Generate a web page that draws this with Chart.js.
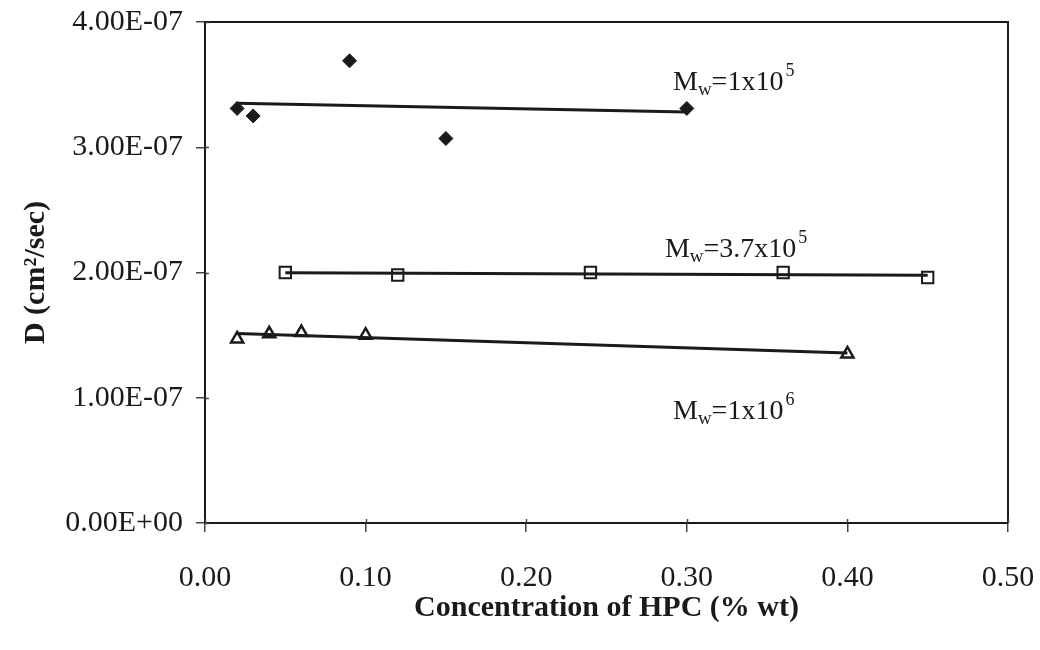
<!DOCTYPE html>
<html>
<head>
<meta charset="utf-8">
<script src="https://cdn.jsdelivr.net/npm/chart.js@4.4.1/dist/chart.umd.min.js"></script>
<style>
  html, body { margin: 0; padding: 0; background: #fff; }
</style>
</head>
<body>
<canvas id="chart" width="1040" height="650"></canvas>
<script>
// HPC concentration (% wt) vs. diffusion coefficient D (cm^2/sec)
const concMw1e5 = [0.02, 0.03, 0.09, 0.15, 0.30];
const diffMw1e5 = [3.31e-7, 3.25e-7, 3.69e-7, 3.07e-7, 3.31e-7];

const concMw37e5 = [0.05, 0.12, 0.24, 0.36, 0.45];
const diffMw37e5 = [2.00e-7, 1.98e-7, 2.00e-7, 2.00e-7, 1.96e-7];

const concMw1e6 = [0.02, 0.04, 0.06, 0.10, 0.40];
const diffMw1e6 = [1.47e-7, 1.51e-7, 1.52e-7, 1.50e-7, 1.35e-7];

const xTicks = [0, 0.1, 0.2, 0.3, 0.4, 0.5];
const yTicks = [0, 1e-7, 2e-7, 3e-7, 4e-7];

const mwBase = ['1x10', '3.7x10', '1x10'];
const mwExp = ['5', '5', '6'];

// where each M_w caption sits, in data units (left edge, baseline)
const captionAnchors = [
  { x: 0.2914, y: 3.46e-7 },
  { x: 0.2864, y: 2.12e-7 },
  { x: 0.2914, y: 0.83e-7 }
];

const SERIF = '"Liberation Serif", "Times New Roman", serif';
const INK = '#1a1a1a';

const toPoints = (xs, ys) => xs.map((x, i) => ({ x, y: ys[i] }));

// least squares line across the range of the points
const linearFit = (xs, ys) => {
  const n = xs.length;
  const mx = xs.reduce((a, b) => a + b, 0) / n;
  const my = ys.reduce((a, b) => a + b, 0) / n;
  let sxy = 0, sxx = 0;
  xs.forEach((x, i) => {
    sxy += (x - mx) * (ys[i] - my);
    sxx += (x - mx) * (x - mx);
  });
  const slope = sxy / sxx;
  const x0 = Math.min(...xs), x1 = Math.max(...xs);
  return [{ x: x0, y: my + slope * (x0 - mx) }, { x: x1, y: my + slope * (x1 - mx) }];
};

const sci = (v) => {
  if (Math.abs(v) < 1e-20) return '0.00E+00';
  const [m, e] = v.toExponential(2).split('e');
  const n = parseInt(e, 10);
  return m + 'E' + (n < 0 ? '-' : '+') + String(Math.abs(n)).padStart(2, '0');
};

const trend = (xs, ys) => ({
  type: 'scatter',
  data: linearFit(xs, ys),
  showLine: true,
  borderColor: INK,
  borderWidth: 3,
  pointRadius: 0,
  order: 0
});

// frame on top/right plus the short inner half of the cross ticks
const framePlugin = {
  id: 'frame',
  beforeDatasetsDraw(chart) {
    const { ctx, chartArea: a, scales } = chart;
    ctx.save();
    ctx.strokeStyle = INK;
    ctx.lineWidth = 2;
    ctx.beginPath();
    ctx.moveTo(a.left, a.top);
    ctx.lineTo(a.right, a.top);
    ctx.lineTo(a.right, a.bottom);
    ctx.stroke();
    ctx.strokeStyle = '#444';
    ctx.lineWidth = 1.5;
    ctx.beginPath();
    yTicks.forEach((v) => {
      const y = Math.round(scales.y.getPixelForValue(v)) + 0.5;
      ctx.moveTo(a.left, y);
      ctx.lineTo(a.left + 4, y);
    });
    xTicks.forEach((v) => {
      const x = Math.round(scales.x.getPixelForValue(v)) + 0.5;
      ctx.moveTo(x, a.bottom);
      ctx.lineTo(x, a.bottom - 4);
    });
    ctx.stroke();
    ctx.restore();
  }
};

// M_w captions with subscript w and superscript exponent
const captionPlugin = {
  id: 'captions',
  afterDatasetsDraw(chart) {
    const { ctx, scales } = chart;
    ctx.save();
    ctx.fillStyle = INK;
    ctx.textBaseline = 'alphabetic';
    ctx.textAlign = 'left';
    captionAnchors.forEach((p, i) => {
      let x = scales.x.getPixelForValue(p.x);
      const y = scales.y.getPixelForValue(p.y);
      ctx.font = '28px ' + SERIF;
      ctx.fillText('M', x, y);
      x += ctx.measureText('M').width;
      ctx.font = '19px ' + SERIF;
      ctx.fillText('w', x, y + 5);
      x += ctx.measureText('w').width;
      ctx.font = '28px ' + SERIF;
      const txt = '=' + mwBase[i];
      ctx.fillText(txt, x, y);
      x += ctx.measureText(txt).width + 2;
      ctx.font = '18px ' + SERIF;
      ctx.fillText(mwExp[i], x, y - 14);
    });
    ctx.restore();
  }
};

new Chart(document.getElementById('chart'), {
  type: 'scatter',
  data: {
    datasets: [
      trend(concMw1e5, diffMw1e5),
      trend(concMw37e5, diffMw37e5),
      trend(concMw1e6, diffMw1e6),
      {
        data: toPoints(concMw1e5, diffMw1e5),
        pointStyle: 'rectRot',
        pointRadius: 7,
        backgroundColor: INK,
        borderColor: INK,
        borderWidth: 1,
        order: 1
      },
      {
        data: toPoints(concMw37e5, diffMw37e5),
        pointStyle: 'rect',
        pointRadius: 8,
        backgroundColor: '#fff',
        borderColor: INK,
        borderWidth: 2,
        order: 1
      },
      {
        data: toPoints(concMw1e6, diffMw1e6),
        pointStyle: 'triangle',
        pointRadius: 7,
        backgroundColor: '#fff',
        borderColor: INK,
        borderWidth: 2.5,
        order: 1
      }
    ]
  },
  options: {
    responsive: false,
    animation: false,
    events: [],
    layout: { padding: { top: 22, right: 32, left: 0, bottom: 0 } },
    plugins: {
      legend: { display: false },
      tooltip: { enabled: false }
    },
    scales: {
      x: {
        type: 'linear',
        min: 0,
        max: 0.5,
        afterBuildTicks: (s) => { s.ticks = xTicks.map((v) => ({ value: v })); },
        afterFit: (s) => {
          s.height = 127;
          s.paddingLeft = 0;
          s.paddingRight = 0;
        },
        ticks: {
          color: INK,
          padding: 28,
          font: { family: SERIF, size: 30 },
          callback: (v) => Number(v).toFixed(2)
        },
        grid: { drawOnChartArea: false, tickLength: 9, color: '#444', lineWidth: 1.5 },
        border: { color: INK, width: 2 },
        title: {
          display: true,
          text: 'Concentration of HPC (% wt)',
          color: INK,
          font: { family: SERIF, size: 30, weight: 'bold' },
          padding: { top: 0, bottom: 24 }
        }
      },
      y: {
        type: 'linear',
        min: 0,
        max: 4e-7,
        afterBuildTicks: (s) => { s.ticks = yTicks.map((v) => ({ value: v })); },
        afterFit: (s) => {
          s.width = 205;
          s.paddingTop = 0;
          s.paddingBottom = 0;
        },
        ticks: {
          color: INK,
          padding: 13,
          font: { family: SERIF, size: 30 },
          callback: (v) => sci(v)
        },
        grid: { drawOnChartArea: false, tickLength: 9, color: '#444', lineWidth: 1.5 },
        border: { color: INK, width: 2 },
        title: {
          display: true,
          text: 'D (cm\u00B2/sec)',
          color: INK,
          font: { family: SERIF, size: 30, weight: 'bold' },
          padding: { top: 18, bottom: 0 }
        }
      }
    }
  },
  plugins: [framePlugin, captionPlugin]
});
</script>
</body>
</html>
